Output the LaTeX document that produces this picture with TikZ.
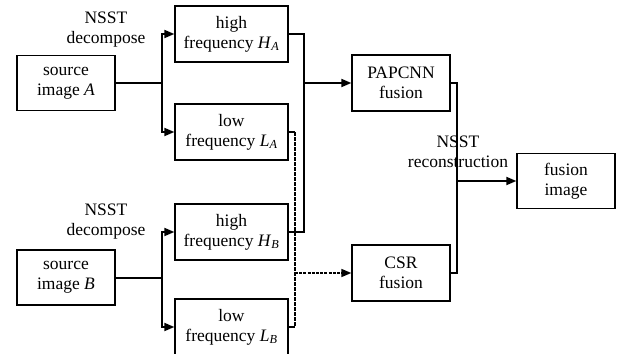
\documentclass[tikz,border=0pt]{standalone}
\usepackage{fontspec}
\setmainfont{Liberation Serif}
\usetikzlibrary{arrows.meta}
\newcommand\ssub[2]{\textit{#1}\textsubscript{\textit{#2}}}
\begin{document}
\begin{tikzpicture}[x=1pt,y=-1pt,
  box/.style={draw, line width=1.3pt, align=center, inner sep=0pt,
    font=\fontsize{17.5}{20}\selectfont},
  sbox/.style={box, minimum width=98pt, minimum height=55pt},
  fbox/.style={box, minimum width=113pt, minimum height=56pt},
  lbl/.style={align=center, inner sep=0pt, font=\fontsize{17.5}{20}\selectfont},
  conn/.style={line width=1.8pt},
  arr/.style={conn, -{Triangle[length=10pt,width=8pt]}},
  dconn/.style={line width=2.4pt, dash pattern=on 3.5pt off 1.5pt}]
\clip (0,0) rectangle (620,353);
\useasboundingbox (0,0) rectangle (620,353);
% boxes
\node[sbox] (srcA) at (66,83) {source\\image \textit{A}};
\node[sbox] (srcB) at (66,277.5) {source\\image \textit{B}};
\node[fbox] (HA) at (231.5,34) {high\\frequency \ssub{H}{A}};
\node[fbox] (LA) at (231.5,132) {low\\frequency \ssub{L}{A}};
\node[fbox] (HB) at (231.5,232) {high\\frequency \ssub{H}{B}};
\node[fbox] (LB) at (231.5,327) {low\\frequency \ssub{L}{B}};
\node[sbox, minimum height=56pt] (PAP) at (401,83) {PAPCNN\\fusion};
\node[sbox, minimum height=56pt] (CSR) at (401,273) {CSR\\fusion};
\node[sbox] (FUS) at (566,181) {fusion\\image};
% labels
\node[lbl] (nA) at (106,30) {NSST\\decompose};
\node[lbl] (nB) at (106,222) {NSST\\decompose};
\node[lbl] (nR) at (458,152) {NSST\\reconstruction};
% junctions
\coordinate (jA) at (162,83);
\coordinate (jB) at (162,278);
\coordinate (m1) at (304,83);
\coordinate (m2) at (295,273);
\coordinate (m3) at (457,181);
\coordinate (dA) at (295,132);
\coordinate (dB) at (295,327);
% connectors
\draw[conn] (srcA.east) -- (jA);
\draw[arr] (jA) |- (HA.west);
\draw[arr] (jA) |- (LA.west);
\draw[conn] (srcB.east |- jB) -- (jB);
\draw[arr] (jB) |- (HB.west);
\draw[arr] (jB) |- (LB.west);
\draw[conn] (HA.east) -| (m1);
\draw[conn] (HB.east) -| (m1);
\draw[arr] (m1) -- (PAP.west);
\draw[conn] (LA.east) -- (dA);
\draw[conn] (LB.east) -- (dB);
\draw[dconn] (dA) -- (dB);
\draw[line width=1.6pt, dash pattern=on 3pt off 1.2pt, -{Triangle[length=10pt,width=8pt]}] (m2) -- (CSR.west);
\draw[conn] (PAP.east) -| (m3);
\draw[conn] (CSR.east) -| (m3);
\draw[arr] (m3) -- (FUS.west);
\end{tikzpicture}
\end{document}
